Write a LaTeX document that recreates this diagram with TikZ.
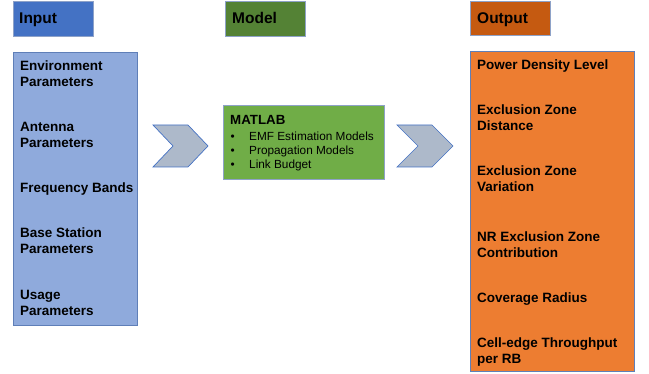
\documentclass[tikz,border=0pt]{standalone}
\usepackage{fontspec}
\setmainfont{Liberation Sans}
\definecolor{inhead}{HTML}{4472C4}
\definecolor{modhead}{HTML}{548235}
\definecolor{outhead}{HTML}{C55A11}
\definecolor{inbox}{HTML}{8FAADC}
\definecolor{modbox}{HTML}{70AD47}
\definecolor{outbox}{HTML}{ED7D31}
\definecolor{chevfill}{HTML}{ADB9CA}
\definecolor{chevline}{HTML}{4472C4}
\definecolor{hborder}{HTML}{8EA2C8}
\definecolor{bborder}{HTML}{5F7FB8}
\newcommand{\twolines}[2]{\begin{tabular}[t]{@{}l@{}}#1\\#2\end{tabular}}
\begin{document}
\begin{tikzpicture}[x=1pt,y=-1pt,
  headbox/.style={draw=hborder,line width=0.8pt},
  bigbox/.style={draw=bborder,line width=0.8pt},
  chev/.style={fill=chevfill,draw=chevline,line width=0.7pt,line join=miter},
  headtxt/.style={anchor=base west,inner sep=0pt,font=\fontsize{15.5}{18}\selectfont\bfseries},
  item/.style={anchor=base west,inner sep=0pt,font=\fontsize{13.5}{16}\selectfont\bfseries},
  bul/.style={anchor=base west,inner sep=0pt,font=\fontsize{11.8}{14}\selectfont}
]
\useasboundingbox (0,0) rectangle (649,374);
% headers
\filldraw[headbox,fill=inhead] (13,1) rectangle (93,36);
\node[headtxt] (hin) at (19,24) {Input};
\filldraw[headbox,fill=modhead] (225,1) rectangle (305,36);
\node[headtxt] (hmod) at (232,24) {Model};
\filldraw[headbox,fill=outhead] (470,1) rectangle (550,35);
\node[headtxt] (hout) at (477,23.5) {Output};
% input box
\filldraw[bigbox,fill=inbox] (13,52) rectangle (137,325);
\node[item] (i1) at (20,70.7) {\twolines{Environment}{Parameters}};
\node[item] (i2) at (20,132) {\twolines{Antenna}{Parameters}};
\node[item] (i3) at (20,193) {Frequency Bands};
\node[item] (i4) at (20,238) {\twolines{Base Station}{Parameters}};
\node[item] (i5) at (20,300) {\twolines{Usage}{Parameters}};
% chevrons
\filldraw[chev] (153,125) -- (188,125) -- (208,146) -- (188,167) -- (153,167) -- (173,146) -- cycle;
\filldraw[chev] (397,125) -- (432,125) -- (453,146) -- (432,167) -- (397,167) -- (418,146) -- cycle;
% model box
\filldraw[headbox,fill=modbox] (223,105.5) rectangle (384,179);
\node[anchor=base west,inner sep=0pt,font=\fontsize{13.3}{16}\selectfont\bfseries] (mat) at (230,125) {MATLAB};
\node[bul] (b1) at (230.5,140.5) {•};
\node[bul] (t1) at (249,140.5) {EMF Estimation Models};
\node[bul] (b2) at (230.5,154.5) {•};
\node[bul] (t2) at (249,154.5) {Propagation Models};
\node[bul] (b3) at (230.5,168.5) {•};
\node[bul] (t3) at (249,168.5) {Link Budget};
% output box
\filldraw[bigbox,fill=outbox] (470,51) rectangle (634,371);
\node[item] (o1) at (477,70) {Power Density Level};
\node[item] (o2) at (477,115) {\twolines{Exclusion Zone}{Distance}};
\node[item] (o3) at (477,176) {\twolines{Exclusion Zone}{Variation}};
\node[item] (o4) at (477,242) {\twolines{NR Exclusion Zone}{Contribution}};
\node[item] (o5) at (477,303) {Coverage Radius};
\node[item] (o6) at (477,348) {\twolines{Cell-edge Throughput}{per RB}};
\end{tikzpicture}
\end{document}
